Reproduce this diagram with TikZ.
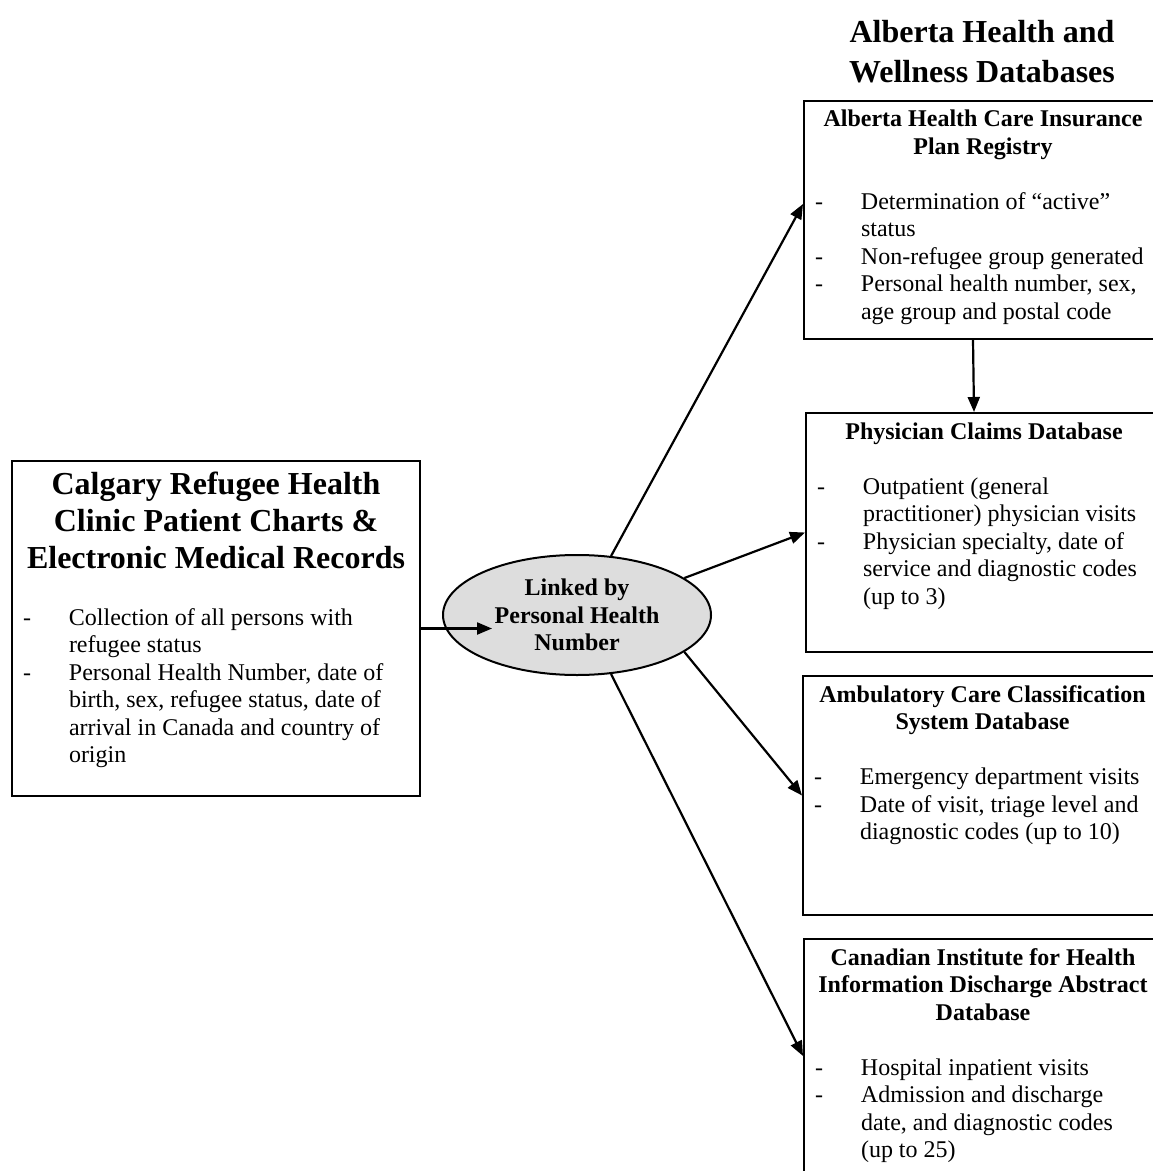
\documentclass[tikz,border=0pt]{standalone}
\usepackage{fontspec}
\setmainfont{Liberation Serif}
\usetikzlibrary{arrows.meta,shapes.geometric}
\setlength{\parskip}{0pt}
\definecolor{linkgray}{RGB}{221,221,221}
\newcommand{\dbitem}[1]{\par\noindent\hangindent=28.5pt\hangafter=1\makebox[28.5pt][l]{\hspace{5.5pt}-}#1\par}

\begin{document}
\begin{tikzpicture}[x=0.5pt, y=-0.5pt,
    dbbox/.style={draw, line width=1pt, inner sep=0pt, anchor=north west, font=\fontsize{12}{13.75}\selectfont},
    linker/.style={ellipse, draw, line width=1pt, fill=linkgray, minimum width=134pt, minimum height=60pt, inner sep=0pt, align=center, font=\fontsize{12}{13.75}\selectfont\bfseries},
    arr/.style={line width=1.1pt, -{Triangle[length=7.5pt,width=6pt]}}]
    \useasboundingbox (0,0) rectangle (1152,1171);

    %clinic records and link
        \node[dbbox] (clinic) at (11,460) {\parbox[t][167.5pt][t]{204pt}{\centering\fontsize{16}{18.5}\selectfont\bfseries
            \rule{0pt}{16.5pt}Calgary Refugee Health\\ Clinic Patient Charts \&\\ Electronic Medical Records\par
            \vspace{14.75pt}\raggedright\fontsize{12}{13.75}\selectfont\mdseries
            \dbitem{Collection of all persons with\newline refugee status}
            \dbitem{Personal Health Number, date of\newline birth, sex, refugee status, date of\newline arrival in Canada and country of\newline origin}}};
        \node[linker] (link) at (577,615) {Linked by\\ Personal Health\\ Number};

    %alberta health databases
        \node[font=\fontsize{16}{20}\selectfont\bfseries, align=center, anchor=base] (awtitle) at (982,83) {Alberta Health and\\ Wellness Databases};
        \node[dbbox] (reg) at (803,100) {\parbox[t][119pt][t]{179pt}{\centering\bfseries
            \rule{0pt}{13pt}Alberta Health Care Insurance\\ Plan Registry\par
            \vspace{13.75pt}\raggedright\mdseries
            \dbitem{Determination of ``active''\newline status}
            \dbitem{Non-refugee group generated}
            \dbitem{Personal health number, sex,\newline age group and postal code}}};
        \node[dbbox] (phys) at (805,412) {\parbox[t][119.5pt][t]{178pt}{\centering\bfseries
            \rule{0pt}{13pt}Physician Claims Database\par
            \vspace{13.75pt}\raggedright\mdseries
            \dbitem{Outpatient (general\newline practitioner) physician visits}
            \dbitem{Physician specialty, date of\newline service and diagnostic codes\newline (up to 3)}}};
        \node[dbbox] (ambu) at (802,675) {\parbox[t][119.5pt][t]{179.5pt}{\centering\bfseries
            \rule{0pt}{13pt}Ambulatory Care Classification\\ System Database\par
            \vspace{13.75pt}\raggedright\mdseries
            \dbitem{Emergency department visits}
            \dbitem{Date of visit, triage level and\newline diagnostic codes (up to 10)}}};
        \node[dbbox] (cihi) at (803,938) {\parbox[t][120pt][t]{179pt}{\centering\bfseries
            \rule{0pt}{13pt}Canadian Institute for Health\\ Information Discharge Abstract\\ Database\par
            \vspace{13.75pt}\raggedright\mdseries
            \dbitem{Hospital inpatient visits}
            \dbitem{Admission and discharge\newline date, and diagnostic codes\newline (up to 25)}}};

    %arrows
        \draw[arr] (clinic.east) -- ++(71,0);
        \draw[arr] (link.60) -- ([yshift=8pt]reg.west);
        \draw[arr] (link.19) -- (phys.west);
        \draw[arr] (link.-19) -- (ambu.west);
        \draw[arr] (link.-60) -- ([yshift=1.5pt]cihi.west);
        \draw[arr] ([xshift=-5pt]reg.south) -- ([xshift=-5pt]phys.north);
\end{tikzpicture}
\end{document}
